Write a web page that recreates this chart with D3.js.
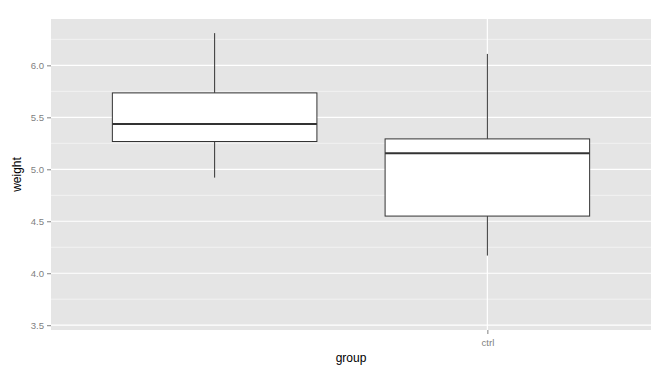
<!DOCTYPE html>
<html><head><meta charset="utf-8">
<script src="https://cdn.jsdelivr.net/npm/d3@7"></script>
<style>body{margin:0;background:#fff}svg{display:block}text{font-family:"Liberation Sans",Arial,sans-serif}</style>
</head><body>
<svg id="c" width="671" height="375"></svg>
<script>
// Data
const categories = ["trt2", "ctrl"];
const axisLabels = ["ctrl"];           // only labelled break
const mins    = [4.92, 4.17];
const q1s     = [5.2675, 4.55];
const medians = [5.435, 5.155];
const q3s     = [5.735, 5.2925];
const maxs    = [6.31, 6.11];
const dataRange = [3.59, 6.31];        // full range of the weight data
const yTicks = [3.5, 4.0, 4.5, 5.0, 5.5, 6.0];
const yMinor = [3.75, 4.25, 4.75, 5.25, 5.75, 6.25];

const svg = d3.select("#c");
const m = {l:51, r:20, t:19, b:45};
const W = 671, H = 375;
const pw = W - m.l - m.r, ph = H - m.t - m.b;

const ext = (dataRange[1]-dataRange[0])*0.05;
const y = d3.scaleLinear().domain([dataRange[0]-ext, dataRange[1]+ext]).range([m.t+ph, m.t]);
const xPos = d3.scaleLinear().domain([0.4, categories.length+0.6]).range([m.l, m.l+pw]);
const x = c => xPos(categories.indexOf(c)+1);
const unit = xPos(2)-xPos(1);
const bw = unit*0.75;

svg.append("rect").attr("x",m.l).attr("y",m.t).attr("width",pw).attr("height",ph).attr("fill","#E5E5E5");

const g = svg.append("g");
g.selectAll(".minor").data(yMinor).join("line")
  .attr("x1",m.l).attr("x2",m.l+pw).attr("y1",d=>y(d)).attr("y2",d=>y(d))
  .attr("stroke","#F2F2F2").attr("stroke-width",1);
g.selectAll(".major").data(yTicks).join("line")
  .attr("x1",m.l).attr("x2",m.l+pw).attr("y1",d=>y(d)).attr("y2",d=>y(d))
  .attr("stroke","#FFFFFF").attr("stroke-width",1.2);
g.selectAll(".vmajor").data(axisLabels).join("line")
  .attr("x1",d=>x(d)).attr("x2",d=>x(d)).attr("y1",m.t).attr("y2",m.t+ph)
  .attr("stroke","#FFFFFF").attr("stroke-width",1.2);

// boxes
const boxes = categories.map((c,i)=>({c, min:mins[i], q1:q1s[i], med:medians[i], q3:q3s[i], max:maxs[i]}));
const bg = svg.append("g").selectAll("g").data(boxes).join("g");
bg.append("line").attr("x1",d=>x(d.c)).attr("x2",d=>x(d.c)).attr("y1",d=>y(d.max)).attr("y2",d=>y(d.q3))
  .attr("stroke","#333").attr("stroke-width",1);
bg.append("line").attr("x1",d=>x(d.c)).attr("x2",d=>x(d.c)).attr("y1",d=>y(d.q1)).attr("y2",d=>y(d.min))
  .attr("stroke","#333").attr("stroke-width",1);
bg.append("rect").attr("x",d=>x(d.c)-bw/2).attr("width",bw).attr("y",d=>y(d.q3)).attr("height",d=>y(d.q1)-y(d.q3))
  .attr("fill","#fff").attr("stroke","#333").attr("stroke-width",1);
bg.append("line").attr("x1",d=>x(d.c)-bw/2).attr("x2",d=>x(d.c)+bw/2).attr("y1",d=>y(d.med)).attr("y2",d=>y(d.med))
  .attr("stroke","#333").attr("stroke-width",2);

// axes
const yAxis = d3.axisLeft(y).tickValues(yTicks).tickFormat(d3.format(".1f")).tickSize(4).tickPadding(3);
const ya = svg.append("g").attr("transform",`translate(${m.l},0)`).call(yAxis);
ya.select(".domain").remove();
ya.selectAll("line").attr("stroke","#7F7F7F");
ya.selectAll("text").attr("fill","#7F7F7F").style("font-size","9.6px").attr("font-family",null);

const xScaleBand = d3.scaleOrdinal().domain(categories).range(categories.map(c=>x(c)));
const xAxis = d3.axisBottom(xScaleBand).tickValues(axisLabels).tickSize(4).tickPadding(5);
const xa = svg.append("g").attr("transform",`translate(0,${m.t+ph})`).call(xAxis);
xa.select(".domain").remove();
xa.selectAll("line").attr("stroke","#7F7F7F");
xa.selectAll("text").attr("fill","#7F7F7F").style("font-size","9.6px").attr("font-family",null);

svg.append("text").attr("x",m.l+pw/2).attr("y",362).attr("text-anchor","middle")
  .style("font-size","12px").attr("fill","#000").text("group");
svg.append("text").attr("transform",`translate(21,${m.t+ph/2}) rotate(-90)`).attr("text-anchor","middle")
  .style("font-size","12px").attr("fill","#000").text("weight");
</script>
</body></html>
